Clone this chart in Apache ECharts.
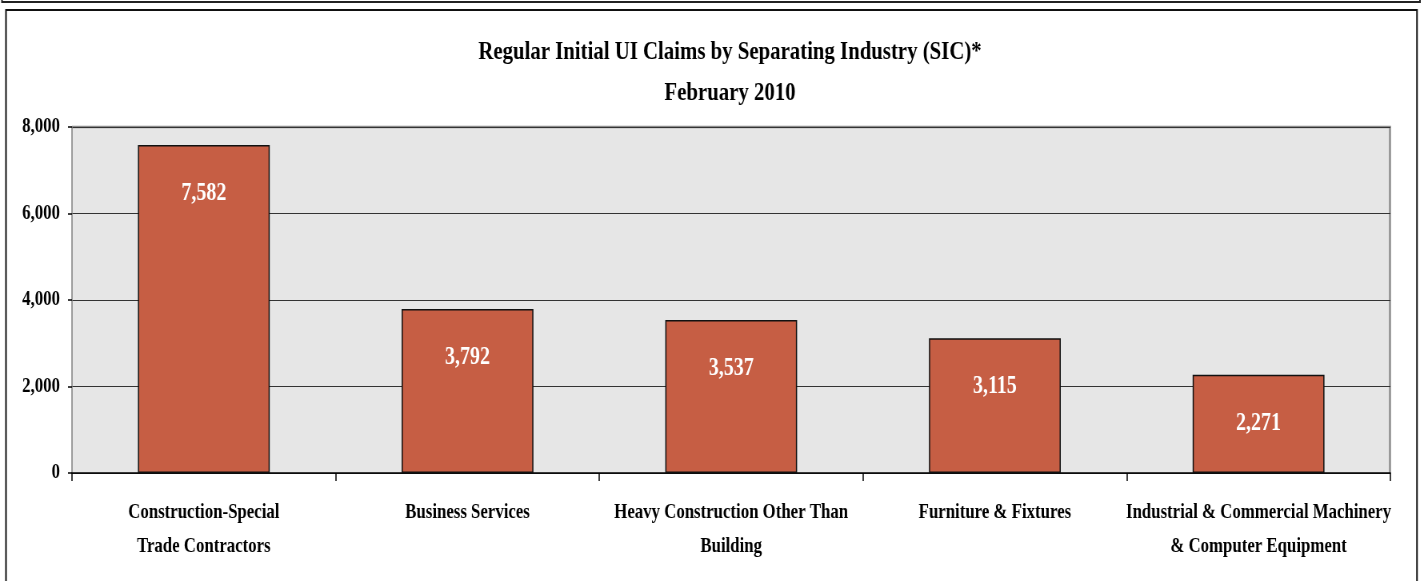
<!DOCTYPE html>
<html>
<head>
<meta charset="utf-8">
<script src="https://cdn.jsdelivr.net/npm/echarts@6/dist/echarts.min.js"></script>
<style>
  html, body { margin: 0; padding: 0; background: #fff; overflow: hidden; }
  #wrap { width: 1422px; height: 581px; overflow: hidden; }
  /* Times-style condensed look: draw wider, squeeze horizontally */
  #chart { height: 581px; transform-origin: 0 0; }
</style>
</head>
<body>
<div id="wrap"><div id="chart"></div></div>
<script>
// 数据
var categories = [
    'Construction-Special\nTrade Contractors',
    'Business Services',
    'Heavy Construction Other Than\nBuilding',
    'Furniture & Fixtures',
    'Industrial & Commercial Machinery\n& Computer Equipment'
];
var claims = [7582, 3792, 3537, 3115, 2271];
var yTicks = [0, 2000, 4000, 6000, 8000];

(function () {
    var S = 0.8;               // horizontal squeeze
    var W = 1422 / S;
    var el = document.getElementById('chart');
    el.style.width = W + 'px';
    el.style.transform = 'scaleX(' + S + ')';

    var font = '"Liberation Serif", "Times New Roman", serif';
    var myChart = echarts.init(el);

    var option = {
        animation: false,
        title: {
            text: 'Regular Initial UI Claims by Separating Industry (SIC)*\nFebruary 2010',
            left: 726 / S,
            top: 27,
            textAlign: 'center',
            textStyle: {
                fontFamily: font, fontWeight: 'bold', fontSize: 26,
                lineHeight: 41, color: '#000'
            }
        },
        grid: {
            left: 72 / S,
            right: 32 / S,
            top: 127,
            bottom: 108,
            show: true,
            backgroundColor: '#e6e6e6',
            borderWidth: 0
        },
        graphic: [
            // 外框
            { type: 'rect', shape: { x: 2 / S, y: -20, width: 1418 / S, height: 22 },
              style: { fill: 'none', stroke: '#222', lineWidth: 2 } },
            { type: 'rect', shape: { x: 6 / S, y: 10, width: 1411 / S, height: 600 },
              style: { fill: 'none', stroke: '#111', lineWidth: 2 } },
            // plot border top/right
            { type: 'polyline', shape: { points: [[72 / S, 127], [1390 / S, 127], [1390 / S, 473]] },
              style: { fill: 'none', stroke: '#8c8c8c', lineWidth: 2.5 } }
        ],
        xAxis: {
            type: 'category',
            data: categories,
            axisLine: { lineStyle: { color: '#000', width: 1.5 } },
            axisTick: { show: true, length: 8, lineStyle: { color: '#000', width: 1.5 } },
            axisLabel: {
                fontFamily: font, fontWeight: 'bold', fontSize: 21,
                lineHeight: 34, color: '#000', margin: 23, interval: 0
            }
        },
        yAxis: {
            type: 'value',
            min: 0,
            max: yTicks[yTicks.length - 1],
            interval: yTicks[1] - yTicks[0],
            axisLine: { show: true, lineStyle: { color: '#808080', width: 1.5 } },
            axisTick: { show: true, length: 5, lineStyle: { color: '#000', width: 1.5 } },
            splitLine: { lineStyle: { color: '#333', width: 1 } },
            axisLabel: {
                fontFamily: font, fontWeight: 'bold', fontSize: 21, color: '#000',
                margin: 15,
                formatter: function (v) { return v.toLocaleString('en-US'); }
            }
        },
        series: [{
            type: 'bar',
            data: claims,
            barWidth: '50%',
            itemStyle: { color: '#c65e44', borderColor: '#111', borderWidth: 1.5 },
            label: {
                show: true,
                position: 'insideTop',
                distance: 36,
                fontFamily: font, fontWeight: 'bold', fontSize: 25, color: '#fff',
                formatter: function (p) { return p.value.toLocaleString('en-US'); }
            }
        }]
    };
    myChart.setOption(option);
})();
</script>
</body>
</html>
